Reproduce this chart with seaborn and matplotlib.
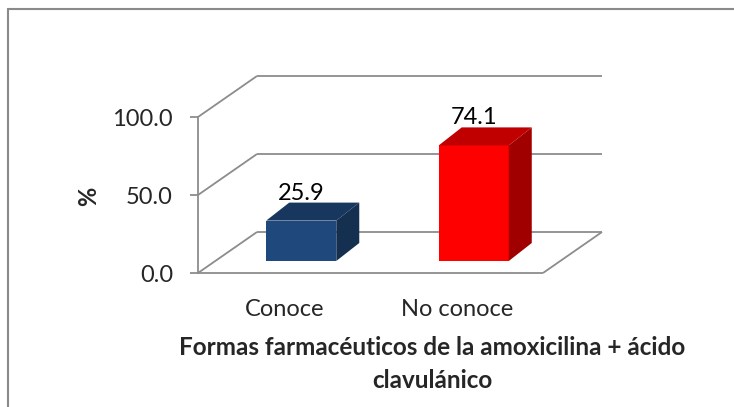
import matplotlib
matplotlib.use("Agg")
import matplotlib.pyplot as plt
import matplotlib.transforms as mtransforms
from matplotlib.patches import Polygon
from matplotlib.lines import Line2D
import numpy as np
import pandas as pd
import seaborn as sns

# Data
categories = ["Conoce", "No conoce"]
values = [25.9, 74.1]
tick_values = [0, 50, 100]
tick_labels = ["0.0", "50.0", "100.0"]
title_text = "Formas farmacéuticos de la amoxicilina + ácido\nclavulánico"

# Colours (front, top, side) for each bar
front_colors = ["#1F497D", "#FF0000"]
top_colors = ["#17375E", "#C00000"]
side_colors = ["#152F50", "#A00000"]
grid_color = "#8C8C8C"

sns.set_style("white")
plt.rcParams["font.family"] = ["Lato", "DejaVu Sans"]

W, H = 734, 407
fig = plt.figure(figsize=(W / 100, H / 100), dpi=100)
fig.patch.set_facecolor("white")

# Front plane of the 3-D box
ax = fig.add_axes([198 / W, 134 / H, 345 / W, 156 / H])
df = pd.DataFrame({"cat": categories, "val": values})
sns.barplot(data=df, x="cat", y="val", hue="cat", palette=front_colors,
            legend=False, width=0.406, saturation=1, ax=ax, zorder=5)
ax.set_xlim(-0.5, 1.5)
ax.set_ylim(0, 100)

# Pseudo-3D offsets in pixels
wall_off = np.array([59.0, 41.0])     # back wall depth
bar_front = np.array([17.0, 12.0])    # bars sit a little behind the front plane
bar_depth = np.array([23.0, 18.0])    # thickness of each bar


def shifted(x, y, off):
    disp = ax.transData.transform((x, y)) + off
    return ax.transData.inverted().transform(disp)


line_kw = dict(color=grid_color, lw=1.3, clip_on=False, zorder=1,
               solid_capstyle="butt")

# Back wall gridlines and left wall diagonals
for v in tick_values:
    p0 = shifted(-0.5, v, wall_off)
    p1 = shifted(1.5, v, wall_off)
    ax.plot([p0[0], p1[0]], [p0[1], p1[1]], **line_kw)
    ax.plot([-0.5, p0[0]], [v, p0[1]], **line_kw)

# Floor front and right edges
pr = shifted(1.5, 0, wall_off)
ax.plot([-0.5, 1.5], [0, 0], **line_kw)
ax.plot([1.5, pr[0]], [0, pr[1]], **line_kw)

# Move bar fronts back and add top / side faces
offset_tr = mtransforms.ScaledTranslation(bar_front[0] / 100, bar_front[1] / 100,
                                          fig.dpi_scale_trans)
for i, p in enumerate(ax.patches):
    x0 = p.get_x()
    w = p.get_width()
    h = p.get_height()
    p.set_transform(ax.transData + offset_tr)
    p.set_edgecolor("none")
    p.set_clip_on(False)
    ftl = shifted(x0, h, bar_front)
    ftr = shifted(x0 + w, h, bar_front)
    fbr = shifted(x0 + w, 0, bar_front)
    btl = shifted(x0, h, bar_front + bar_depth)
    btr = shifted(x0 + w, h, bar_front + bar_depth)
    bbr = shifted(x0 + w, 0, bar_front + bar_depth)
    ax.add_patch(Polygon([ftl, ftr, btr, btl], closed=True, facecolor=top_colors[i],
                         edgecolor="none", clip_on=False, zorder=6))
    ax.add_patch(Polygon([ftr, fbr, bbr, btr], closed=True, facecolor=side_colors[i],
                         edgecolor="none", clip_on=False, zorder=6))
    ax.annotate(f"{values[i]:.1f}", xy=(x0 + w / 2, h),
                xytext=(bar_front[0], bar_front[1] + bar_depth[1] + 3),
                textcoords="offset pixels", ha="center", va="baseline",
                fontsize=17, color="black", zorder=7, annotation_clip=False)

# Axes styling
for s in ["top", "right", "bottom"]:
    ax.spines[s].set_visible(False)
ax.spines["left"].set_color(grid_color)
ax.spines["left"].set_linewidth(1.3)
ax.set_yticks(tick_values)
ax.set_yticklabels(tick_labels)
ax.tick_params(axis="y", length=6, width=1.3, color=grid_color, pad=12,
               labelsize=17, left=True)
ax.tick_params(axis="x", length=0, pad=19, labelsize=17)
ax.set_xlabel("")
ax.set_ylabel("")
ax.set_facecolor("none")
ax.grid(False)

fig.text(89 / W, 1 - 196 / H, "%", rotation=90, ha="center", va="center",
         fontsize=17, fontweight="bold")
fig.text(432 / W, 1 - 336 / H, title_text, ha="center", va="top",
         multialignment="center", fontsize=17.5, fontweight="bold", linespacing=1.55)

# Chart-area frame (left and top edges)
fig.add_artist(Line2D([8 / W, 8 / W], [0, 1 - 9 / H], transform=fig.transFigure,
                      color="#8A8A8A", lw=1.5))
fig.add_artist(Line2D([8 / W, 1], [1 - 9 / H, 1 - 9 / H], transform=fig.transFigure,
                      color="#8A8A8A", lw=1.5))

fig.savefig("out.png", dpi=100)
